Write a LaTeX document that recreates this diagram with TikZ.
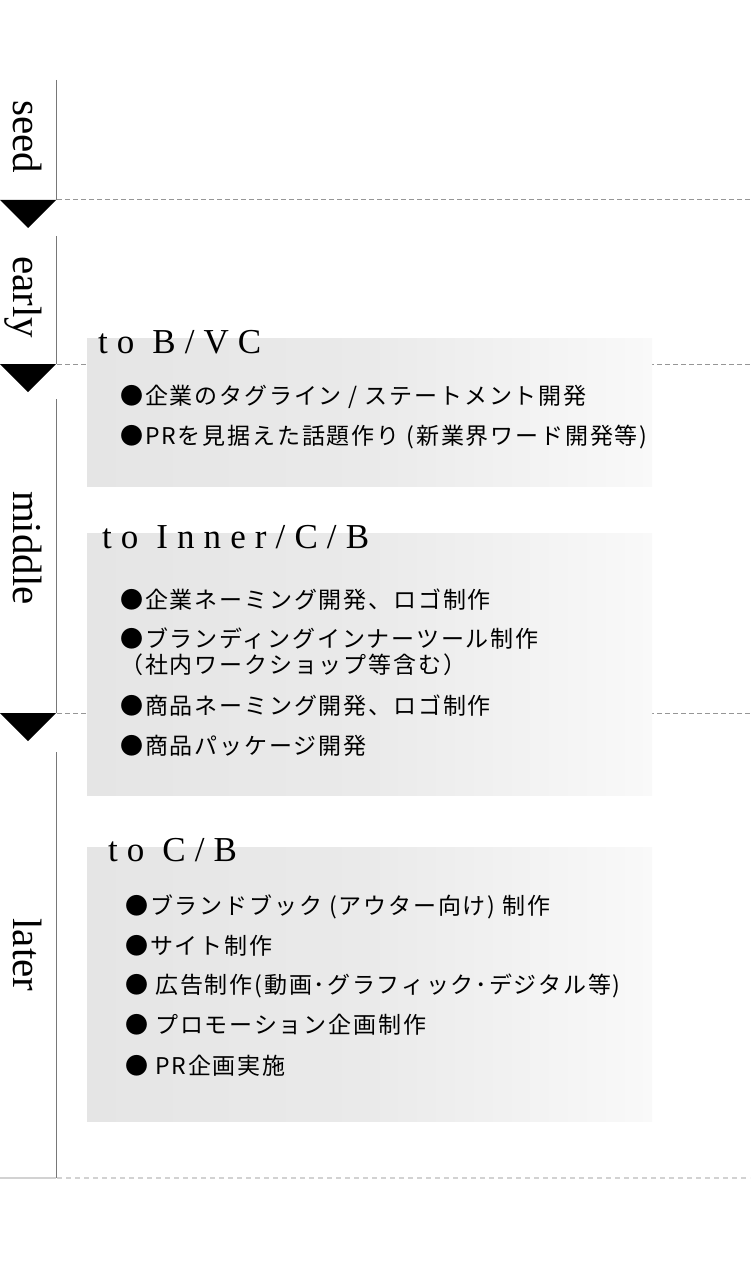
\documentclass[tikz,border=0pt]{standalone}
\usepackage{fontspec}
\setmainfont{Liberation Serif}
\newfontfamily\jpfont{Noto Sans CJK JP}[LetterSpace=8]
\newfontfamily\headfont{Liberation Serif}[LetterSpace=26]
\definecolor{boxL}{RGB}{229,229,229}
\definecolor{boxM}{RGB}{234,234,234}
\definecolor{boxR}{RGB}{249,249,249}
\definecolor{sepgray}{RGB}{150,150,150}
\definecolor{sepgrayL}{RGB}{210,210,210}
\definecolor{axisgray}{RGB}{120,120,120}
\pgfdeclarehorizontalshading{boxfade}{100bp}{color(0bp)=(boxL); color(25bp)=(boxL); color(50bp)=(boxM); color(75bp)=(boxR); color(100bp)=(boxR)}
\tikzset{
  stagelabel/.style={font=\fontsize{41}{41}\selectfont, rotate=-90, anchor=base, inner sep=0pt},
  heading/.style={font=\headfont\fontsize{35}{35}\selectfont, anchor=base west, inner sep=0pt},
  item/.style={font=\jpfont\fontsize{23}{27}\selectfont, anchor=west, inner sep=0pt},
  phasebox/.style={shading=boxfade, draw=none, anchor=north west, inner sep=0pt, minimum width=565pt},
  sepline/.style={dash pattern=on 5pt off 3pt, line width=1pt, draw=sepgray},
  seplineL/.style={dash pattern=on 5pt off 4pt, line width=1.5pt, draw=sepgrayL},
  axisline/.style={line width=1pt, draw=axisgray},
  marker/.style={fill=black},
}
\begin{document}
\begin{tikzpicture}[x=1pt,y=-1pt]
\useasboundingbox (0,0) rectangle (750,1265);
% coordinates
\coordinate (a1) at (56,80);   \coordinate (a2) at (56,200);
\coordinate (b1) at (56,236);  \coordinate (b2) at (56,364);
\coordinate (c1) at (56,399);  \coordinate (c2) at (56,713);
\coordinate (d1) at (56,752);  \coordinate (d2) at (56,1178);
\coordinate (s1s) at (57,200); \coordinate (s1e) at (750,200);
\coordinate (s2s) at (57,364); \coordinate (s2e) at (750,364);
\coordinate (s3s) at (57,713); \coordinate (s3e) at (750,713);
\coordinate (s4a) at (0,1178); \coordinate (s4s) at (57,1178); \coordinate (s4e) at (750,1178);
% separators
\draw[sepline] (s1s) -- (s1e);
\draw[sepline] (s2s) -- (s2e);
\draw[sepline] (s3s) -- (s3e);
\draw[line width=1.5pt, draw=sepgrayL] (s4a) -- (d2);
\draw[seplineL] (s4s) -- (s4e);
% axis
\draw[axisline] (a1) -- (a2);
\draw[axisline] (b1) -- (b2);
\draw[axisline] (c1) -- (c2);
\draw[axisline] (d1) -- (d2);
% markers
\fill[marker] (0,200) -- (56,200) -- (28,228) -- cycle;
\fill[marker] (0,364) -- (56,364) -- (28,392) -- cycle;
\fill[marker] (0,713) -- (56,713) -- (28,741) -- cycle;
% stage labels
\node[stagelabel] (seed) at (13,137) {seed};
\node[stagelabel] (early) at (13,297) {early};
\node[stagelabel] (middle) at (13,548) {middle};
\node[stagelabel] (later) at (13,955) {later};
% boxes
\node[phasebox, minimum height=148pt] (box1) at (87,338) {};
\node[phasebox, minimum height=262pt] (box2) at (87,533) {};
\node[phasebox, minimum height=274pt] (box3) at (87,847) {};
% headings
\node[heading] (h1) at (98,353) {to B/VC};
\node[heading] (h2) at (102,548) {to Inner/C/B};
\node[heading] (h3) at (108,861) {to C/B};
% items
\node[item] (i11) at (120,397) {●企業のタグライン / ステートメント開発};
\node[item] (i12) at (120,437) {●PRを見据えた話題作り (新業界ワード開発等)};
\node[item] (i21) at (120,600) {●企業ネーミング開発、ロゴ制作};
\node[item] (i22) at (120,639) {●ブランディングインナーツール制作};
\node[item] (i22b) at (120,665) {（社内ワークショップ等含む）};
\node[item] (i23) at (120,706) {●商品ネーミング開発、ロゴ制作};
\node[item] (i24) at (120,746) {●商品パッケージ開発};
\node[item] (i31) at (125,907) {●ブランドブック (アウター向け) 制作};
\node[item] (i32) at (125,946) {●サイト制作};
\node[item] (i33) at (125,986) {● 広告制作(動画･グラフィック･デジタル等)};
\node[item] (i34) at (125,1025) {● プロモーション企画制作};
\node[item] (i35) at (125,1066) {● PR企画実施};
\end{tikzpicture}
\end{document}
